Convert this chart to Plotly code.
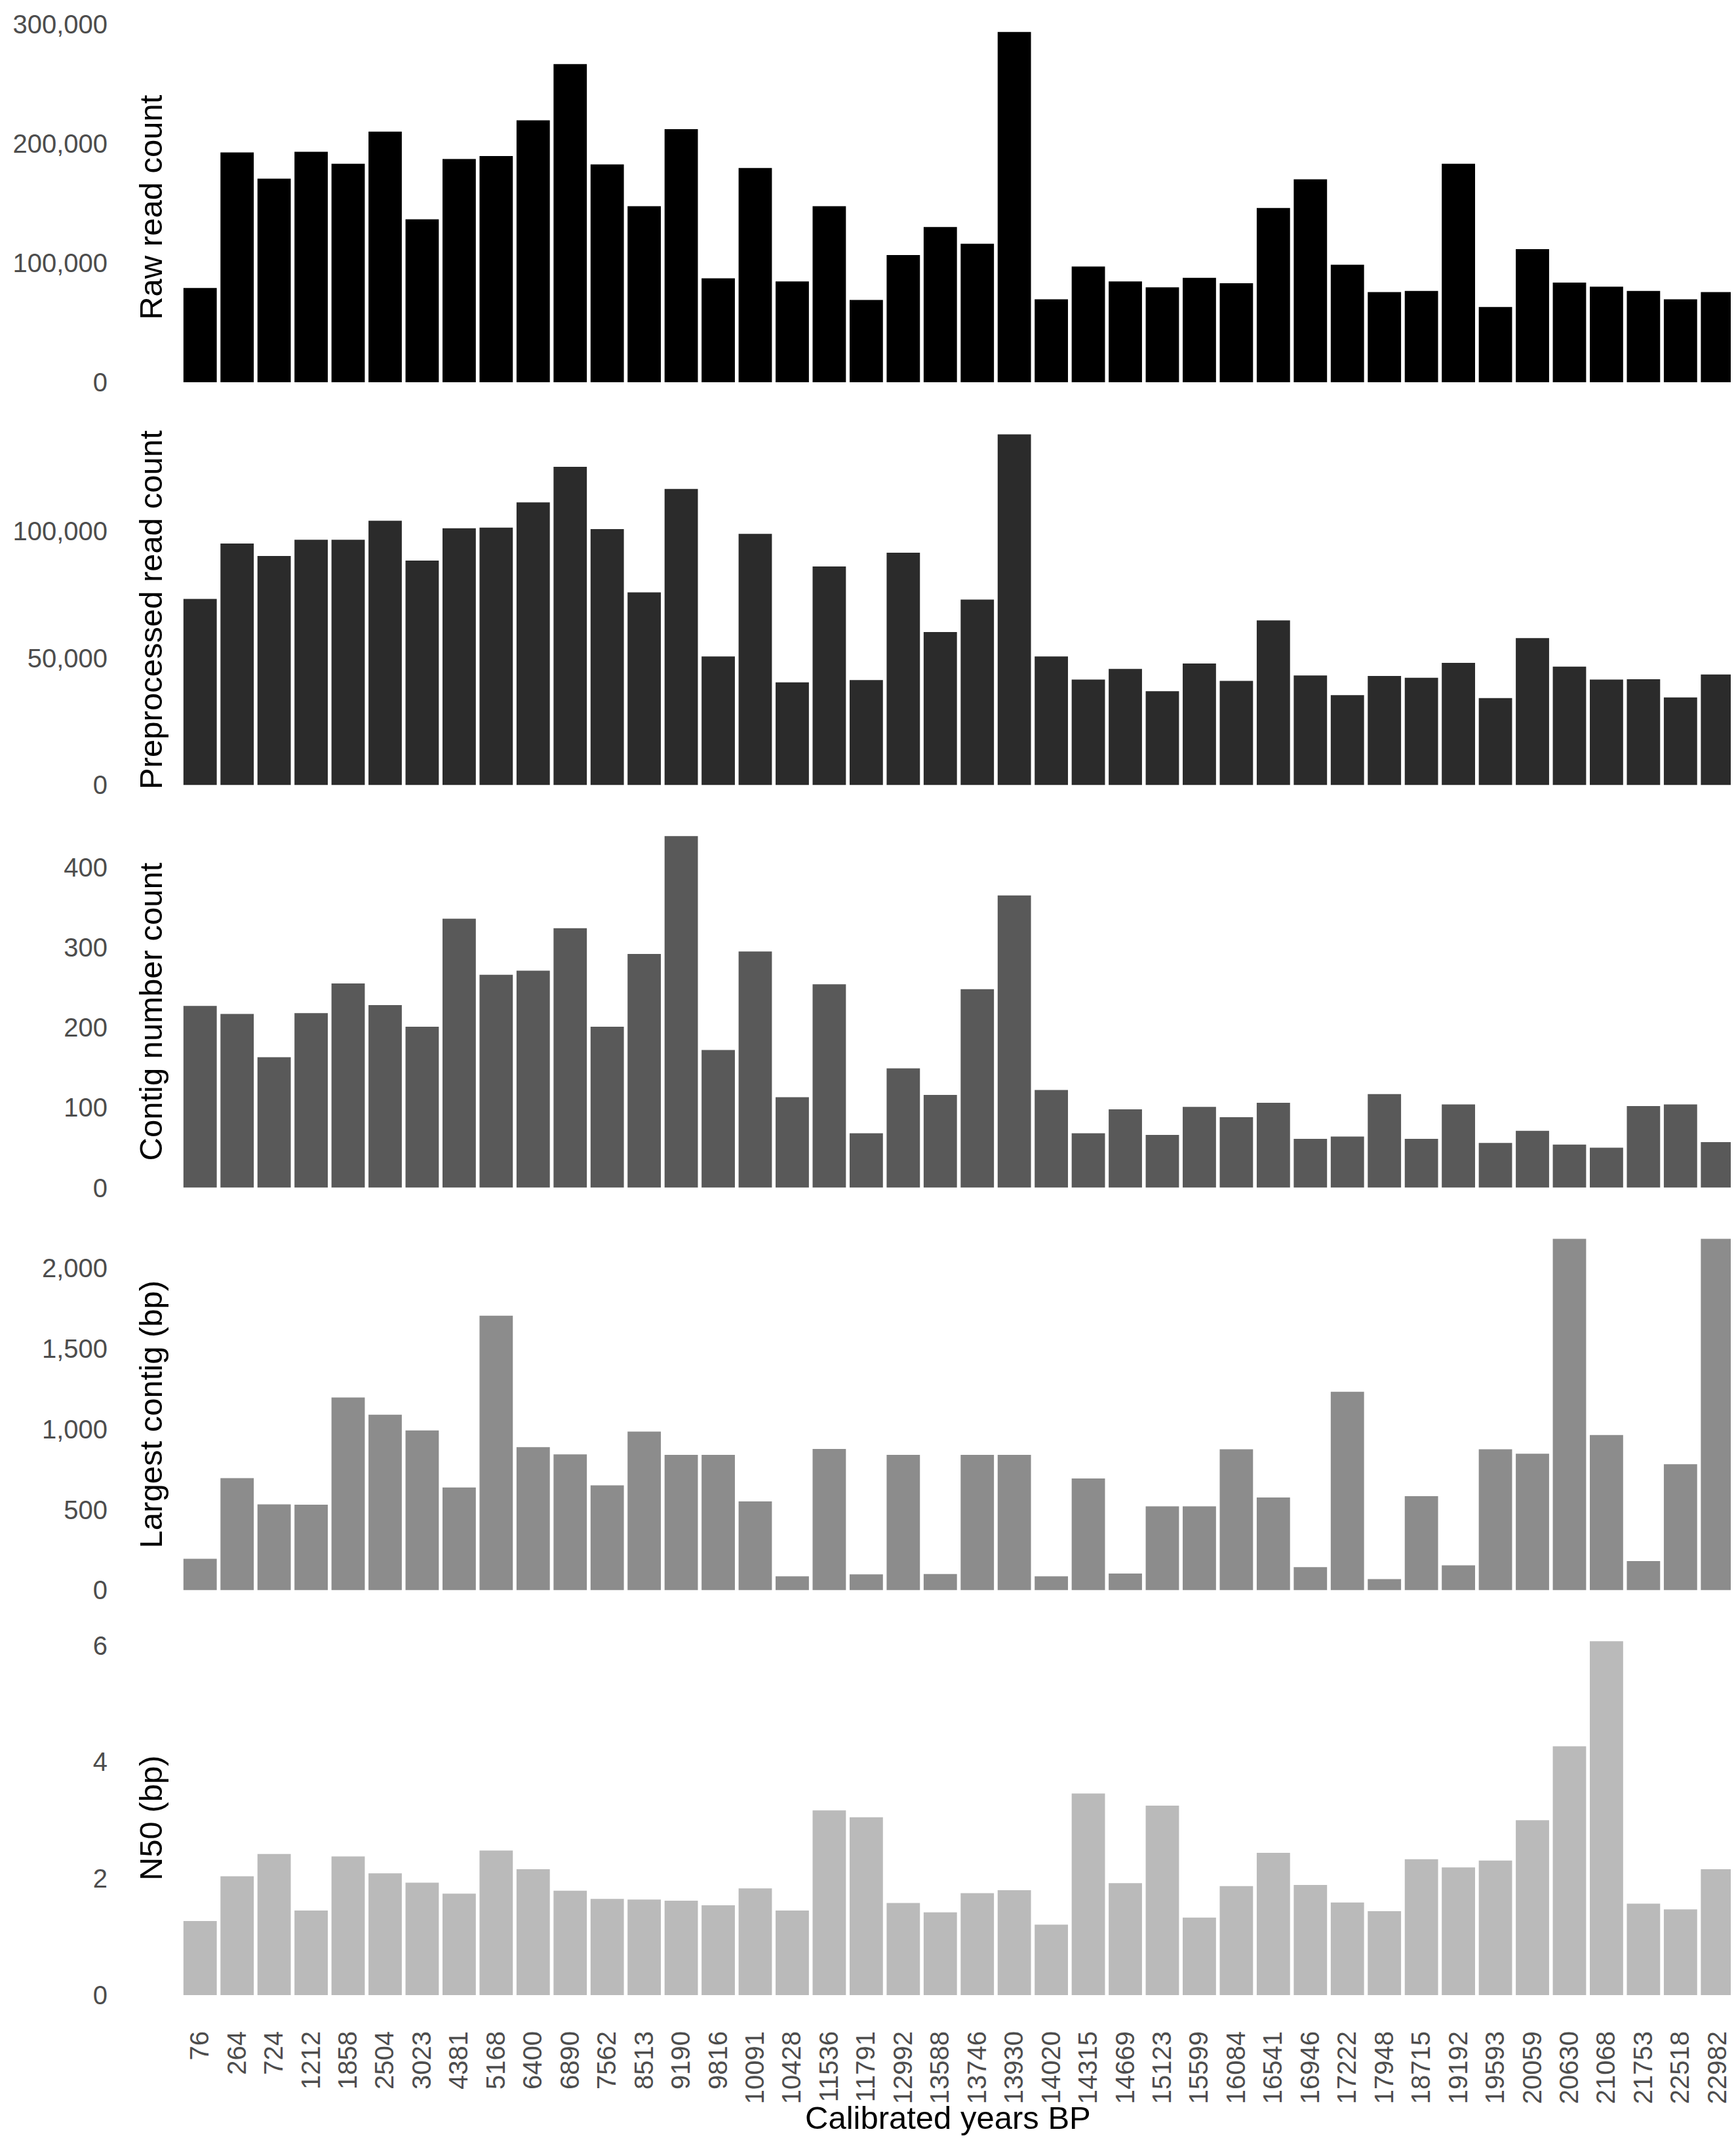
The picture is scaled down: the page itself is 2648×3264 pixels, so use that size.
import plotly.graph_objects as go

years = ["76", "264", "724", "1212", "1858", "2504", "3023", "4381", "5168", "6400",
         "6890", "7562", "8513", "9190", "9816", "10091", "10428", "11536", "11791", "12992",
         "13588", "13746", "13930", "14020", "14315", "14669", "15123", "15599", "16084", "16541",
         "16946", "17222", "17948", "18715", "19192", "19593", "20059", "20630", "21068", "21753",
         "22518", "22982"]

raw_reads = [79000, 192500, 170500, 193000, 183000, 210000, 136500, 187000, 189500, 219500,
             266500, 182500, 147500, 212000, 87000, 179500, 84500, 147500, 69000, 106500,
             130000, 116000, 293500, 69500, 97000, 84500, 79500, 87500, 83000, 146000,
             170000, 98500, 75500, 76500, 183000, 63000, 111500, 83500, 80000, 76500,
             69500, 75500]

preprocessed_reads = [73200, 95000, 90100, 96500, 96500, 104000, 88300, 101000, 101300, 111200,
                      125200, 100700, 75800, 116500, 50600, 98800, 40400, 86000, 41300, 91400,
                      60200, 73000, 138000, 50600, 41500, 45700, 36900, 47800, 41000, 64800,
                      43100, 35400, 42900, 42200, 48100, 34200, 57800, 46600, 41500, 41600,
                      34500, 43500]

contig_count = [227, 217, 163, 218, 255, 228, 201, 336, 266, 271,
                324, 201, 292, 439, 172, 295, 113, 254, 68, 149,
                116, 248, 365, 122, 68, 98, 66, 101, 88, 106,
                61, 64, 117, 61, 104, 56, 71, 54, 50, 102,
                104, 57]

largest_contig = [195, 695, 533, 531, 1196, 1089, 992, 637, 1704, 888,
                  843, 651, 984, 840, 840, 551, 86, 877, 98, 840,
                  100, 840, 840, 86, 693, 103, 520, 520, 874, 575,
                  143, 1232, 69, 584, 154, 874, 847, 2181, 963, 181,
                  782, 2181]

n50 = [1.27, 2.04, 2.42, 1.45, 2.38, 2.09, 1.93, 1.74, 2.48, 2.16,
       1.79, 1.65, 1.64, 1.62, 1.54, 1.83, 1.45, 3.17, 3.05, 1.58,
       1.42, 1.75, 1.80, 1.21, 3.46, 1.92, 3.25, 1.33, 1.87, 2.44,
       1.89, 1.59, 1.44, 2.33, 2.19, 2.31, 3.00, 4.27, 6.07, 1.57,
       1.47, 2.16]

panel_titles = ["Raw read count", "Preprocessed read count", "Contig number count",
                "Largest contig (bp)", "N50 (bp)"]
panel_values = [raw_reads, preprocessed_reads, contig_count, largest_contig, n50]
panel_colors = ["#000000", "#2B2B2B", "#595959", "#8C8C8C", "#BABABA"]
panel_ticks = [[0, 100000, 200000, 300000], [0, 50000, 100000], [0, 100, 200, 300, 400],
               [0, 500, 1000, 1500, 2000], [0, 2, 4, 6]]
panel_range_top = [301000, 141350, 448.6, 2230, 6.164]

x_title = "Calibrated years BP"

# layout geometry (pixels)
W, H = 2648, 3264
L, R, T, B = 269, 8, 27, 229
plot_h = H - T - B
panel_bottoms_px = [575, 1189.4, 1803.6, 2417.4, 3035]
panel_h_px = 548

FONT = "Liberation Sans, Arial, sans-serif"
TICK_COLOR = "#4D4D4D"

fig = go.Figure()
layout_axes = {}
annotations = []
for i in range(5):
    n = i + 1
    xa = "x" if n == 1 else f"x{n}"
    ya = "y" if n == 1 else f"y{n}"
    fig.add_trace(go.Bar(x=years, y=panel_values[i], marker=dict(color=panel_colors[i], line=dict(width=0)),
                         xaxis=xa, yaxis=ya, showlegend=False, hoverinfo="x+y"))
    bottom = (H - B - panel_bottoms_px[i]) / plot_h
    top = (H - B - (panel_bottoms_px[i] - panel_h_px)) / plot_h
    xkey = "xaxis" if n == 1 else f"xaxis{n}"
    ykey = "yaxis" if n == 1 else f"yaxis{n}"
    layout_axes[xkey] = dict(
        domain=[0, 1], anchor=ya, type="category", range=[-0.5, len(years) - 0.5],
        showgrid=False, zeroline=False, showline=False, ticks="",
        showticklabels=(n == 5), tickangle=-90,
        tickfont=dict(family=FONT, size=40, color=TICK_COLOR),
        ticklabelstandoff=46, automargin=False,
    )
    if n != 1:
        layout_axes[xkey]["matches"] = "x"
    layout_axes[ykey] = dict(
        domain=[bottom, top], anchor=xa, range=[0, panel_range_top[i]],
        showgrid=False, zeroline=False, showline=False, ticks="",
        tickvals=panel_ticks[i], tickformat=",d",
        tickfont=dict(family=FONT, size=40, color=TICK_COLOR),
        ticklabelstandoff=112, automargin=False,
    )
    annotations.append(dict(
        text=panel_titles[i], xref="paper", yref=ya, x=(222 - L) / (W - L - R),
        y=max(panel_values[i]) / 2, xanchor="center", yanchor="middle",
        textangle=-90, showarrow=False,
        font=dict(family=FONT, size=49, color="#000000"),
    ))

annotations.append(dict(
    text=x_title, xref="paper", yref="paper", x=0.493, y=(H - B - 3222) / plot_h,
    xanchor="center", yanchor="middle", showarrow=False,
    font=dict(family=FONT, size=49, color="#000000"),
))

fig.update_layout(
    width=W, height=H,
    margin=dict(l=L, r=R, t=T, b=B, pad=0, autoexpand=False),
    paper_bgcolor="#FFFFFF", plot_bgcolor="#FFFFFF",
    bargap=0.1,
    annotations=annotations,
    **layout_axes,
)

fig.write_html("out.html")
